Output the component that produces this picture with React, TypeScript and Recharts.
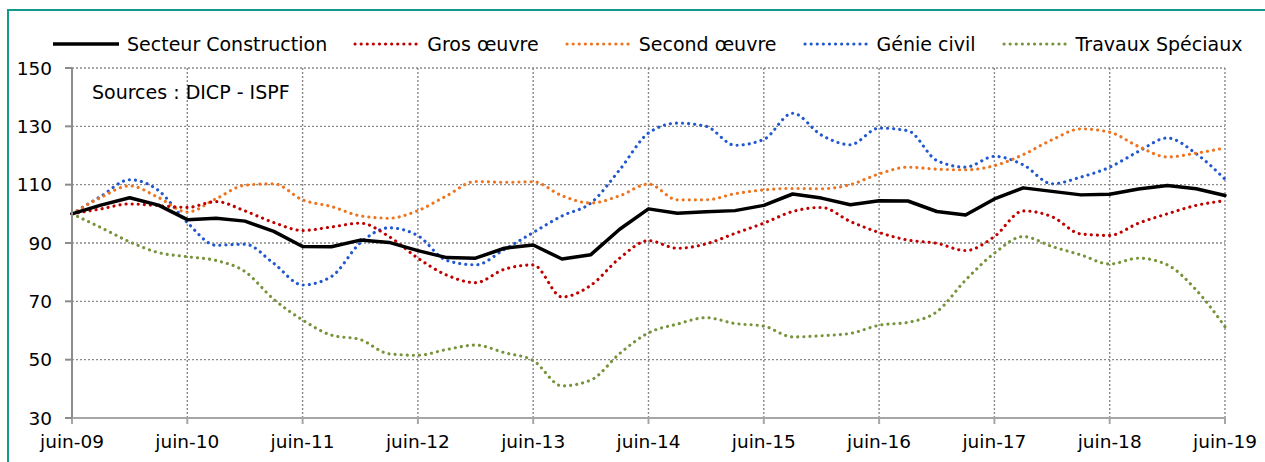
import { LineChart, Line, XAxis, YAxis, CartesianGrid } from "recharts";

const FONT = "'DejaVu Sans', Verdana, sans-serif";

// quarterly points, juin-09 .. juin-19
const quarters = [
  "juin-09", "sept-09", "déc-09", "mars-10",
  "juin-10", "sept-10", "déc-10", "mars-11",
  "juin-11", "sept-11", "déc-11", "mars-12",
  "juin-12", "sept-12", "déc-12", "mars-13",
  "juin-13", "sept-13", "déc-13", "mars-14",
  "juin-14", "sept-14", "déc-14", "mars-15",
  "juin-15", "sept-15", "déc-15", "mars-16",
  "juin-16", "sept-16", "déc-16", "mars-17",
  "juin-17", "sept-17", "déc-17", "mars-18",
  "juin-18", "sept-18", "déc-18", "mars-19",
  "juin-19",
];

const tickLabels = [
  "juin-09", "juin-10", "juin-11", "juin-12", "juin-13", "juin-14",
  "juin-15", "juin-16", "juin-17", "juin-18", "juin-19",
];

const yTicks = [30, 50, 70, 90, 110, 130, 150];

const construction = [
  100, 103, 105.5, 103, 98, 98.5, 97.5, 94, 88.8, 88.7, 91, 90.2, 87.4, 85,
  84.8, 88.2, 89.3, 84.5, 86, 94.7, 101.7, 100.2, 100.7, 101.1, 102.9, 106.8,
  105.4, 103.1, 104.5, 104.4, 100.8, 99.6, 105.1, 108.9, 107.7, 106.5, 106.7,
  108.5, 109.7, 108.6, 106.3,
];

const grosOeuvre = [
  100, 101.7, 103.4, 102.8, 102.2, 104.2, 101, 97, 94.3, 95.5, 96.8, 92.2,
  84.8, 79, 76.4, 81, 82.5, 71.5, 75.5, 84.8, 90.8, 88.2, 89.7, 93.3, 96.8,
  100.8, 102.2, 97.4, 93.6, 91, 89.9, 87.4, 92.2, 101, 99, 93.1, 92.6, 96.8,
  100, 102.9, 104.5,
];

const secondOeuvre = [
  100, 105.6, 109.6, 105.6, 100.6, 105.2, 109.8, 110.3, 104.8, 102.5, 99.3,
  98.5, 101.1, 106.2, 111.1, 110.8, 111, 106.2, 103.7, 106.2, 110.2, 104.8,
  104.8, 106.9, 108.2, 108.7, 108.6, 110, 113.7, 116, 115.3, 115.1, 116.5,
  120.3, 125.4, 129.1, 128, 123.1, 119.5, 120.8, 122.6,
];

const genieCivil = [
  100, 106, 111.7, 108, 97, 89.2, 89.6, 83, 75.6, 78.5, 90, 95.2, 92.5, 84,
  82.5, 87.8, 93.6, 99.3, 103.7, 115.1, 127.7, 131.1, 130, 123.5, 125.5, 134.5,
  127, 123.7, 129.4, 128.5, 118.3, 116, 119.7, 116.8, 110.3, 112.6, 116, 121.4,
  126, 120.6, 111.9,
];

const travauxSpeciaux = [
  100, 95.3, 90.4, 86.7, 85.3, 84, 80.2, 70.7, 63.6, 58.4, 56.9, 52, 51.5,
  53.5, 55, 52.4, 49.7, 41, 43, 52.1, 59.2, 62.2, 64.4, 62.4, 61.5, 57.8, 58.2,
  59, 61.8, 62.8, 66.4, 77.3, 86.5, 92.2, 88.8, 85.9, 82.8, 84.8, 82.5, 73.9,
  61.3,
];

const series = [
  { key: "construction", name: "Secteur Construction", color: "#000000", dotted: false },
  { key: "gros", name: "Gros œuvre", color: "#C00000", dotted: true },
  { key: "second", name: "Second œuvre", color: "#EE7420", dotted: true },
  { key: "genie", name: "Génie civil", color: "#2157CF", dotted: true },
  { key: "travaux", name: "Travaux Spéciaux", color: "#77933C", dotted: true },
];

const data = quarters.map((q, i) => ({
  q,
  construction: construction[i],
  gros: grosOeuvre[i],
  second: secondOeuvre[i],
  genie: genieCivil[i],
  travaux: travauxSpeciaux[i],
}));

const DOTS = "0.1 6";

function LegendLine({ color, dotted }: { color: string; dotted: boolean }) {
  return (
    <svg width={66} height={8} style={{ display: "block" }}>
      <line
        x1={dotted ? 2 : 0}
        x2={dotted ? 64 : 66}
        y1={4}
        y2={4}
        stroke={color}
        strokeWidth={dotted ? 3.1 : 3.5}
        strokeDasharray={dotted ? DOTS : undefined}
        strokeLinecap={dotted ? "round" : "butt"}
      />
    </svg>
  );
}

export default function App() {
  const axisTick = { fontSize: 18.5, fontFamily: FONT, fill: "#000" };

  return (
    <div
      style={{
        position: "absolute",
        left: 0,
        top: 0,
        width: 1265,
        height: 462,
        overflow: "hidden",
        background: "#fff",
        fontFamily: FONT,
      }}
    >
      <div
        style={{
          position: "absolute",
          left: 7,
          top: 9,
          width: 1400,
          height: 600,
          borderLeft: "2px solid #13998B",
          borderTop: "2px solid #13998B",
        }}
      />

      <div
        style={{
          position: "absolute",
          left: 53,
          top: 32,
          height: 23,
          display: "flex",
          alignItems: "center",
          fontSize: 19,
          color: "#000",
          whiteSpace: "nowrap",
        }}
      >
        {series.map((s) => (
          <div
            key={s.key}
            style={{ display: "flex", alignItems: "center", marginRight: 26 }}
          >
            <LegendLine color={s.color} dotted={s.dotted} />
            <span style={{ marginLeft: 8 }}>{s.name}</span>
          </div>
        ))}
      </div>

      <div style={{ position: "absolute", left: 0, top: 0 }}>
        <LineChart
          width={1265}
          height={462}
          data={data}
          margin={{ top: 68, right: 40, bottom: 14, left: 12 }}
        >
          <CartesianGrid stroke="#8a8a8a" strokeWidth={1.4} strokeDasharray="2 2" />
          <XAxis
            dataKey="q"
            ticks={tickLabels}
            interval={0}
            height={30}
            tickSize={6}
            tickMargin={11}
            tick={axisTick}
            axisLine={{ stroke: "#a6a6a6", strokeWidth: 2 }}
            tickLine={{ stroke: "#a6a6a6", strokeWidth: 2 }}
          />
          <YAxis
            domain={[30, 150]}
            ticks={yTicks}
            width={60}
            tickSize={7}
            tickMargin={13}
            tick={axisTick}
            axisLine={{ stroke: "#8c8c8c", strokeWidth: 2 }}
            tickLine={{ stroke: "#8c8c8c", strokeWidth: 2 }}
          />
          {[...series].reverse().map((s) => (
            <Line
              key={s.key}
              dataKey={s.key}
              name={s.name}
              type={s.dotted ? "monotone" : "linear"}
              stroke={s.color}
              strokeWidth={s.dotted ? 3.1 : 3.5}
              strokeDasharray={s.dotted ? DOTS : undefined}
              strokeLinecap="round"
              strokeLinejoin="round"
              dot={false}
              activeDot={false}
              isAnimationActive={false}
            />
          ))}
        </LineChart>
      </div>

      <div
        style={{
          position: "absolute",
          left: 92,
          top: 81,
          fontSize: 19,
          color: "#000",
          whiteSpace: "nowrap",
        }}
      >
        Sources : DICP - ISPF
      </div>
    </div>
  );
}
